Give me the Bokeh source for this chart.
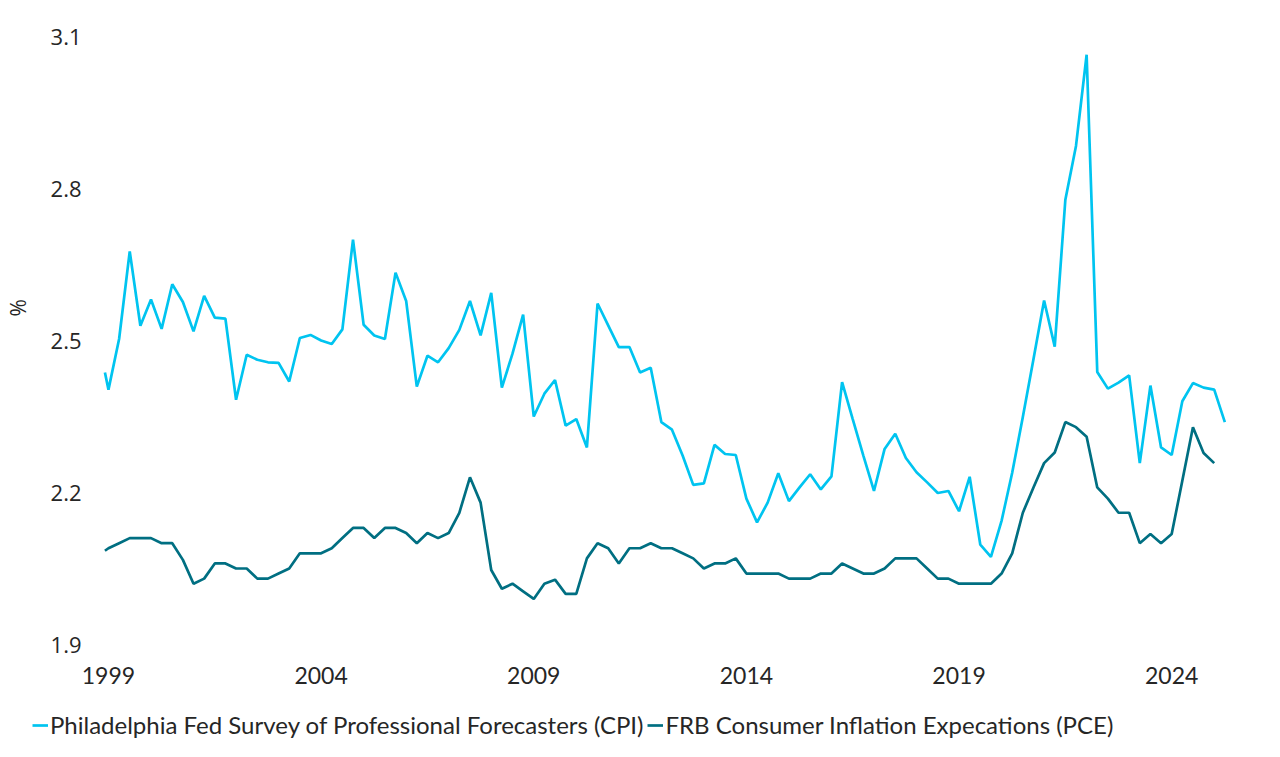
from bokeh.plotting import figure
from bokeh.layouts import column
from bokeh.models import FixedTicker, Legend, LegendItem, ColumnDataSource, Range1d
from bokeh.embed import file_html
from bokeh.resources import INLINE

# ---- data ----
# observation months (year, month); first point Dec 1998, then quarterly from Jan 1999
dates_cpi = [(1998, 12)] + [(1999 + q // 4, 1 + 3 * (q % 4)) for q in range(106)]
dates_pce = dates_cpi[:-1]

cpi = [2.437,
       2.403, 2.503, 2.676, 2.529, 2.581, 2.523, 2.611, 2.576, 2.518, 2.588,
       2.545, 2.543, 2.383, 2.472, 2.462, 2.457, 2.456, 2.419, 2.505, 2.511,
       2.500, 2.493, 2.522, 2.699, 2.531, 2.510, 2.503, 2.634, 2.578, 2.409,
       2.470, 2.457, 2.485, 2.521, 2.578, 2.510, 2.594, 2.407, 2.474, 2.551,
       2.350, 2.395, 2.422, 2.332, 2.345, 2.289, 2.573, 2.530, 2.487, 2.487,
       2.437, 2.446, 2.339, 2.324, 2.273, 2.215, 2.218, 2.294, 2.276, 2.274,
       2.188, 2.141, 2.180, 2.238, 2.183, 2.210, 2.236, 2.206, 2.232, 2.418,
       2.345, 2.273, 2.203, 2.286, 2.316, 2.268, 2.240, 2.220, 2.199, 2.203,
       2.163, 2.231, 2.097, 2.073, 2.144, 2.239, 2.349, 2.463, 2.579, 2.488,
       2.778, 2.884, 3.064, 2.438, 2.405, 2.417, 2.431, 2.258, 2.411, 2.289,
       2.274, 2.380, 2.416, 2.407, 2.403, 2.339]

pce = [2.085,
       2.09, 2.10, 2.11, 2.11, 2.11, 2.10, 2.10, 2.067, 2.02, 2.03,
       2.06, 2.06, 2.05, 2.05, 2.03, 2.03, 2.04, 2.05, 2.08, 2.08,
       2.08, 2.09, 2.11, 2.13, 2.13, 2.11, 2.13, 2.13, 2.12, 2.10,
       2.12, 2.11, 2.12, 2.16, 2.23, 2.18, 2.047, 2.01, 2.02, 2.005,
       1.99, 2.02, 2.028, 2.00, 2.00, 2.07, 2.10, 2.09, 2.06, 2.09,
       2.09, 2.10, 2.09, 2.09, 2.08, 2.07, 2.05, 2.06, 2.06, 2.07,
       2.04, 2.04, 2.04, 2.04, 2.03, 2.03, 2.03, 2.04, 2.04, 2.06,
       2.05, 2.04, 2.04, 2.05, 2.07, 2.07, 2.07, 2.05, 2.03, 2.03,
       2.02, 2.02, 2.02, 2.02, 2.04, 2.08, 2.16, 2.21, 2.258, 2.279,
       2.339, 2.329, 2.31, 2.21, 2.188, 2.16, 2.16, 2.10, 2.118, 2.10,
       2.118, 2.223, 2.329, 2.278, 2.258]

year_ticks = [1999, 2004, 2009, 2014, 2019, 2024]
y_ticks = [1.9, 2.2, 2.5, 2.8, 3.1]

y_title = "%"
cpi_name = "Philadelphia Fed Survey of Professional Forecasters (CPI)"
pce_name = "FRB Consumer Inflation Expecations (PCE)"

cpi_color = "#00C4F0"
pce_color = "#006F82"
text_color = "#262626"


def to_t(d):
    return d[0] + (d[1] - 1) / 12.0


src_cpi = ColumnDataSource(dict(t=[to_t(d) for d in dates_cpi], v=cpi))
src_pce = ColumnDataSource(dict(t=[to_t(d) for d in dates_pce], v=pce))

px_per_year = 42.64
t_left = 1999 + (95 - 105) / px_per_year
t_right = 1999 + (1240 - 105) / px_per_year

p = figure(width=1270, height=700, output_backend="svg", toolbar_location=None,
           x_range=Range1d(t_left, t_right), y_range=Range1d(1.9, 3.1),
           min_border_left=95, min_border_right=30, min_border_top=36,
           min_border_bottom=56)
p.outline_line_color = None
p.grid.visible = False
p.background_fill_color = "white"
p.border_fill_color = "white"
p.frame_align = False

lw = 2.7
r1 = p.line("t", "v", source=src_cpi, line_color=cpi_color, line_width=lw)
r2 = p.line("t", "v", source=src_pce, line_color=pce_color, line_width=lw)

# x axis
xa = p.xaxis[0]
xa.ticker = FixedTicker(ticks=year_ticks)
xa.major_label_overrides = {y: str(y) for y in year_ticks}
xa.axis_line_color = None
xa.major_tick_line_color = None
xa.minor_tick_line_color = None
xa.major_tick_out = 0
xa.major_tick_in = 0
xa.major_label_standoff = 22
xa.major_label_text_font = "Lato"
xa.major_label_text_font_size = "23px"
xa.major_label_text_color = text_color

# y axis, with "%" title nudged upward using leading no-break spaces
ya = p.yaxis[0]
ya.ticker = FixedTicker(ticks=y_ticks)
ya.major_label_overrides = {v: f"{v:.1f}" for v in y_ticks}
ya.axis_line_color = None
ya.major_tick_line_color = None
ya.minor_tick_line_color = None
ya.major_tick_out = 0
ya.major_tick_in = 0
ya.major_label_standoff = 17
ya.major_label_text_font = "Open Sans"
ya.major_label_text_font_size = "22px"
ya.major_label_text_color = text_color
ya.axis_label = "\u00a0" * 12 + y_title
ya.axis_label_standoff = 16
ya.axis_label_text_font = "Open Sans"
ya.axis_label_text_font_size = "21px"
ya.axis_label_text_font_style = "normal"
ya.axis_label_text_color = text_color

# ---- legend strip below the chart ----
lh = 57
lf = figure(width=1270, height=lh, output_backend="svg", toolbar_location=None,
            x_axis_location=None, y_axis_location=None,
            x_range=Range1d(0, 1), y_range=Range1d(0, 1),
            min_border=0, min_border_left=0, min_border_right=0,
            min_border_top=0, min_border_bottom=0)
lf.outline_line_color = None
lf.grid.visible = False
lf.border_fill_color = "white"
lf.background_fill_color = "white"
lf.frame_align = False
g1 = lf.line([0, 0], [-5, -5], line_color=cpi_color, line_width=lw)
g2 = lf.line([0, 0], [-5, -5], line_color=pce_color, line_width=lw)
legend = Legend(items=[LegendItem(label=cpi_name, renderers=[g1]),
                       LegendItem(label=pce_name, renderers=[g2])],
                orientation="horizontal", location=(32, 18),
                glyph_width=16, glyph_height=24, label_standoff=2, spacing=4,
                padding=0, margin=0, border_line_color=None,
                background_fill_alpha=0,
                label_text_font="Lato", label_text_font_size="24px",
                label_text_color=text_color)
lf.add_layout(legend, "center")

layout = column(p, lf, spacing=0)
open("out.html", "w").write(file_html(layout, INLINE))
